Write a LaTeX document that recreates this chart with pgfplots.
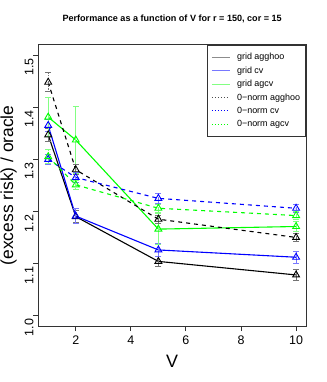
\documentclass[border=0pt]{standalone}
\usepackage{pgfplots}
\pgfplotsset{compat=1.18}
\usepackage{fontspec}
\setmainfont{Liberation Sans}
\definecolor{rgreen}{RGB}{0,255,0}
\definecolor{rblue}{RGB}{0,0,255}
\definecolor{lgreen}{RGB}{130,255,130}
\definecolor{lblue}{RGB}{120,120,255}
\begin{document}
\begin{tikzpicture}
\useasboundingbox (0,0) rectangle (327bp,382bp);
\begin{axis}[
 at={(38.3bp,56bp)}, anchor=south west,
 scale only axis, width=267.7bp, height=281.3bp,
 xmin=0.64, xmax=10.36, ymin=0.98, ymax=1.52,
 xtick={2,4,6,8,10}, ytick={1.0,1.1,1.2,1.3,1.4,1.5},
 xtick pos=left, ytick pos=left, tick align=outside,
 major tick length=5bp,
 axis line style={black!80, line width=0.9bp},
 tick style={black!80, line width=0.9bp},
 /pgf/number format/assume math mode=true,
 ticklabel style={font=\fontsize{12.5}{14}\selectfont},
 y tick label style={/pgf/number format/fixed, /pgf/number format/fixed zerofill, /pgf/number format/precision=1, rotate=90, anchor=base, xshift=-12bp},
 x tick label style={anchor=north, yshift=-1bp},
 xlabel={V}, ylabel={(excess risk) / oracle},
 every axis x label/.style={at={(axis description cs:0.5,-0.1458)}, anchor=base, font=\fontsize{18}{20}\selectfont},
 every axis y label/.style={at={(axis description cs:-0.0945,0.5)}, rotate=90, anchor=base, font=\fontsize{17.5}{20}\selectfont},
 title={Performance as a function of V for r = 150, cor = 15},
 title style={at={(axis description cs:0.5,1.0619)}, anchor=base, font=\bfseries\fontsize{9.1}{10}\selectfont},
 legend cell align=left,
 legend style={at={(1,1)}, anchor=north east, draw=black!80, line width=0.8bp,
   font=\fontsize{9}{10}\selectfont, inner xsep=3.5bp, inner ysep=6bp,
   row sep=1.5bp, /tikz/every odd column/.append style={column sep=5bp}},
 legend image code/.code={\draw[#1] (0bp,0bp) -- (17.7bp,0bp);},
]
\addlegendimage{black!45, line width=1bp}
\addlegendentry{grid agghoo}
\addlegendimage{lblue, line width=1bp}
\addlegendentry{grid cv}
\addlegendimage{lgreen, line width=1bp}
\addlegendentry{grid agcv}
\addlegendimage{black!70, line width=0.8bp, dash pattern=on 1.5bp off 1.5bp}
\addlegendentry{0−norm agghoo}
\addlegendimage{rblue, line width=0.8bp, dash pattern=on 1.5bp off 1.5bp}
\addlegendentry{0−norm cv}
\addlegendimage{rgreen, line width=0.8bp, dash pattern=on 1.5bp off 1.5bp}
\addlegendentry{0−norm agcv}

% grid agghoo
\addplot[black, line width=1.1bp, mark=triangle, mark size=4bp, mark options={solid, line width=0.9bp},
 error bars/.cd, y dir=both, y explicit, error bar style={black!55, line width=0.9bp, solid},
 error mark options={rotate=90, mark size=3bp, black!55, line width=0.9bp}]
 coordinates {(1,1.347) +- (0,0.012) (2,1.190) +- (0,0.012) (5,1.104) +- (0,0.010) (10,1.078) +- (0,0.010)};
% grid cv
\addplot[rblue, line width=1.1bp, mark=triangle, mark size=4bp, mark options={solid, line width=0.9bp},
 error bars/.cd, y dir=both, y explicit, error bar style={lblue, line width=0.9bp, solid},
 error mark options={rotate=90, mark size=3bp, lblue, line width=0.9bp}]
 coordinates {(1,1.365) +- (0,0.012) (2,1.191) +- (0,0.015) (5,1.126) +- (0,0.012) (10,1.112) +- (0,0.012)};
% grid agcv
\addplot[rgreen, line width=1.1bp, mark=triangle, mark size=4bp, mark options={solid, line width=0.9bp},
 error bars/.cd, y dir=both, y explicit, error bar style={lgreen, line width=0.9bp, solid},
 error mark options={rotate=90, mark size=3bp, lgreen, line width=0.9bp}]
 coordinates {(1,1.381) +- (0,0.037) (2,1.337) +- (0,0.064) (5,1.166) +- (0,0.030) (10,1.171) +- (0,0.010)};
% 0-norm agghoo
\addplot[black, line width=1.1bp, dash pattern=on 4bp off 4bp, mark=triangle, mark size=4bp, mark options={solid, line width=0.9bp},
 error bars/.cd, y dir=both, y explicit, error bar style={black!55, line width=0.9bp, dash pattern=on 1.5bp off 1.5bp},
 error mark options={rotate=90, mark size=3bp, black!55, line width=0.9bp, solid}]
 coordinates {(1,1.448) +- (0,0.018) (2,1.280) +- (0,0.010) (5,1.185) +- (0,0.008) (10,1.150) +- (0,0.008)};
% 0-norm cv
\addplot[rblue, line width=1.1bp, dash pattern=on 4bp off 4bp, mark=triangle, mark size=4bp, mark options={solid, line width=0.9bp},
 error bars/.cd, y dir=both, y explicit, error bar style={lblue, line width=0.9bp, dash pattern=on 1.5bp off 1.5bp},
 error mark options={rotate=90, mark size=3bp, lblue, line width=0.9bp, solid}]
 coordinates {(1,1.300) +- (0,0.010) (2,1.265) +- (0,0.010) (5,1.225) +- (0,0.010) (10,1.206) +- (0,0.008)};
% 0-norm agcv
\addplot[rgreen, line width=1.1bp, dash pattern=on 4bp off 4bp, mark=triangle, mark size=4bp, mark options={solid, line width=0.9bp},
 error bars/.cd, y dir=both, y explicit, error bar style={lgreen, line width=0.9bp, dash pattern=on 1.5bp off 1.5bp},
 error mark options={rotate=90, mark size=3bp, lgreen, line width=0.9bp, solid}]
 coordinates {(1,1.305) +- (0,0.013) (2,1.251) +- (0,0.009) (5,1.206) +- (0,0.008) (10,1.192) +- (0,0.008)};
\end{axis}
\end{tikzpicture}
\end{document}
